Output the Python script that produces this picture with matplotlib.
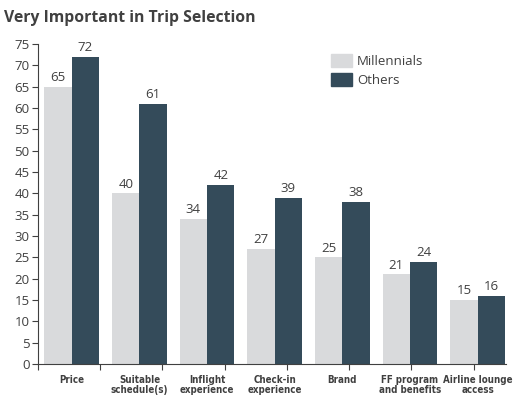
import numpy as np
import matplotlib
matplotlib.use("Agg")
import matplotlib.pyplot as plt
from matplotlib.patches import Patch

# Data
categories = ["Price", "Suitable\nschedule(s)", "Inflight\nexperience", "Check-in\nexperience",
              "Brand", "FF program\nand benefits", "Airline lounge\naccess"]
millennials = [65, 40, 34, 27, 25, 21, 15]
others = [72, 61, 42, 39, 38, 24, 16]

light = "#d9dadc"
dark = "#344b5a"
txt = "#404040"

plt.rcParams['font.family'] = ['Open Sans', 'DejaVu Sans']

fig = plt.figure(figsize=(5.13, 3.98), dpi=100)
ax = fig.add_axes([38/513, 34/398, 468/513, 320/398])

x = np.arange(len(categories))
w = 0.405
b1 = ax.bar(x - w/2, millennials, w, color=light)
b2 = ax.bar(x + w/2, others, w, color=dark)
for bars, vals in ((b1, millennials), (b2, others)):
    for bar, v in zip(bars, vals):
        ax.annotate(str(v), (bar.get_x() + bar.get_width()/2, v), xytext=(0, 2),
                    textcoords="offset points", ha="center", va="bottom",
                    fontsize=9.5, color=txt)

ax.set_xlim(-0.5, 6.42)
ax.set_ylim(0, 75)
ax.set_yticks(np.arange(0, 80, 5))
ax.tick_params(axis="y", labelsize=9.5, colors=txt, length=4, width=0.8, pad=2)

# category labels without ticks; separate ticks as in the original
ax.set_xticks(x)
ax.set_xticklabels(categories, fontsize=7, fontweight="bold", color=txt,
                   family=['DejaVu Sans'], fontstretch="condensed", linespacing=1.0)
ax.tick_params(axis="x", length=0, pad=8)
ax.set_xticks(np.arange(8) * 0.92 - 0.5, minor=True)
ax.tick_params(axis="x", which="minor", length=4, width=0.8, color=txt)

for s in ("top", "right"):
    ax.spines[s].set_visible(False)
for s in ("left", "bottom"):
    ax.spines[s].set_color(txt)
    ax.spines[s].set_linewidth(0.8)

handles = [Patch(color=light, label="Millennials"), Patch(color=dark, label="Others")]
leg = ax.legend(handles=handles, loc="upper left", bbox_to_anchor=(0.6, 1.005),
                frameon=False, fontsize=9.5, handlelength=1.6, handleheight=1.1,
                handletextpad=0.4, labelspacing=0.4)
for t in leg.get_texts():
    t.set_color(txt)

fig.text(4/513, 1 - 18/398, "Very Important in Trip Selection", fontsize=11.3,
         fontweight="bold", color=txt, va="center", ha="left")

fig.savefig("out.png", dpi=100)
